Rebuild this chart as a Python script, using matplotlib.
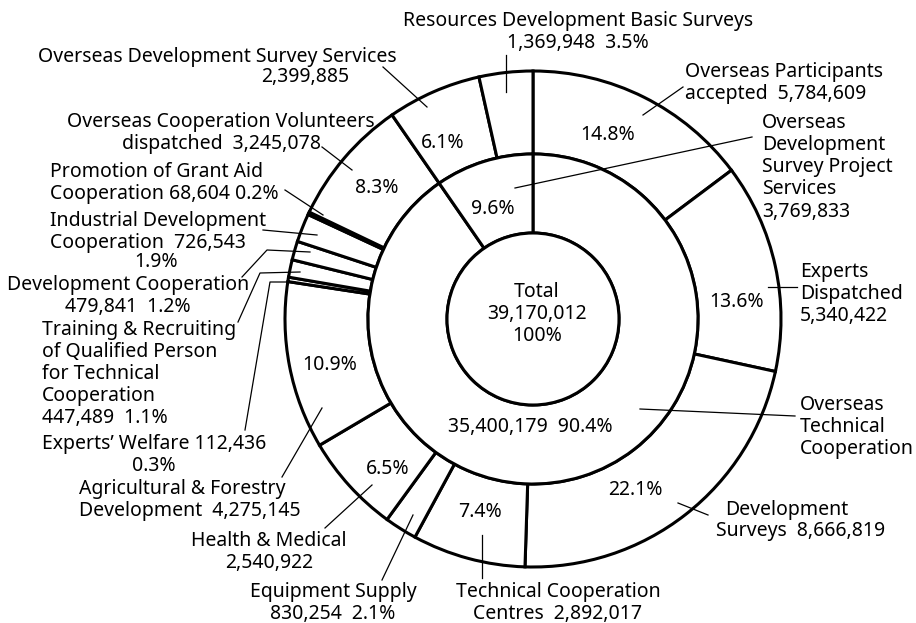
import matplotlib
matplotlib.use("Agg")
import matplotlib.pyplot as plt

W, H = 916, 623

# outer ring, clockwise from 12 o'clock
items = [
    "Overseas Participants accepted", "Experts Dispatched", "Development Surveys",
    "Technical Cooperation Centres", "Equipment Supply", "Health & Medical",
    "Agricultural & Forestry Development", "Experts’ Welfare",
    "Training & Recruiting of Qualified Person for Technical Cooperation",
    "Development Cooperation", "Industrial Development Cooperation",
    "Promotion of Grant Aid Cooperation", "Overseas Cooperation Volunteers dispatched",
    "Overseas Development Survey Services", "Resources Development Basic Surveys",
]
amounts = [5784609, 5340422, 8666819, 2892017, 830254, 2540922, 4275145, 112436,
           447489, 479841, 726543, 68604, 3245078, 2399885, 1369948]

# middle ring
groups = ["Overseas Technical Cooperation", "Overseas Development Survey Project Services"]
group_amounts = [35400179, 3769833]

total = 39170012


def fmt(v):
    return f"{v:,}"


def pct(v):
    return f"{v / total * 100:.1f}%"


plt.rcParams["font.family"] = ["Noto Sans", "DejaVu Sans"]
FS = 14
LS = 1.15

fig = plt.figure(figsize=(W / 100, H / 100), dpi=100)
ax = fig.add_axes([0, 0, 1, 1])

cx, cy = 533, H - 319
ring = dict(facecolor="white", edgecolor="black", linewidth=2.2)
ax.pie(amounts, radius=248, center=(cx, cy), startangle=90, counterclock=False,
       wedgeprops=dict(width=83, **ring))
ax.pie(group_amounts, radius=165, center=(cx, cy), startangle=90, counterclock=False,
       wedgeprops=dict(width=79, **ring))
ax.pie([total], radius=86, center=(cx, cy), wedgeprops=ring)

ax.set_xlim(0, W)
ax.set_ylim(0, H)
ax.set_aspect("equal")
ax.axis("off")


def label(x, y, s, ha="center"):
    ax.text(x, H - y, s, ha=ha, va="center", fontsize=FS, linespacing=LS)


def leader(*pts):
    ax.plot([p[0] for p in pts], [H - p[1] for p in pts], color="black", lw=0.9)


a = amounts
# labels round the chart
label(578, 32, f"{items[14]}\n{fmt(a[14])}  {pct(a[14])}")
label(217, 57, items[13])
label(305, 77, fmt(a[13]))
label(221, 133, f"Overseas Cooperation Volunteers\ndispatched  {fmt(a[12])}")
label(685, 83, f"Overseas Participants\naccepted  {fmt(a[0])}", ha="left")
label(762, 167, f"Overseas\nDevelopment\nSurvey Project\nServices\n{fmt(group_amounts[1])}", ha="left")
label(800, 294, f"Experts\nDispatched\n{fmt(a[1])}", ha="left")
label(800, 427, "Overseas\nTechnical\nCooperation", ha="left")
label(787, 510, "Development")
label(801, 531, f"Surveys  {fmt(a[2])}")
label(558, 603, f"Technical Cooperation\nCentres  {fmt(a[3])}")
label(333, 603, f"Equipment Supply\n{fmt(a[4])}  {pct(a[4])}")
label(269, 552, f"Health & Medical\n{fmt(a[5])}")
label(79, 500, f"Agricultural & Forestry\nDevelopment  {fmt(a[6])}", ha="left")
label(154, 455, f"Experts’ Welfare {fmt(a[7])}\n{pct(a[7])}")
label(42, 374, f"Training & Recruiting\nof Qualified Person\nfor Technical\nCooperation\n{fmt(a[8])}  {pct(a[8])}", ha="left")
label(128, 296, f"Development Cooperation\n{fmt(a[9])}  {pct(a[9])}")
label(50, 232, f"Industrial Development\nCooperation  {fmt(a[10])}", ha="left")
label(156, 262, pct(a[10]))
label(50, 183, f"Promotion of Grant Aid\nCooperation {fmt(a[11])} {pct(a[11])}", ha="left")

# percentages inside the rings
label(608, 135, pct(a[0]))
label(737, 302, pct(a[1]))
label(635, 490, pct(a[2]))
label(480, 512, pct(a[3]))
label(388, 469, pct(a[5]))
label(330, 365, pct(a[6]))
label(377, 188, pct(a[12]))
label(443, 143, pct(a[13]))
label(493, 209, pct(group_amounts[1]))
label(530, 427, f"{fmt(group_amounts[0])}  {pct(group_amounts[0])}")
label(537, 314, f"Total\n{fmt(total)}\n100%")

# leader lines
leader((506, 55), (506, 92))
leader((383, 67), (427, 107))
leader((322, 147), (352, 170))
leader((683, 87), (643, 115))
leader((752, 137), (515, 188))
leader((768, 287), (797, 287))
leader((640, 409), (795, 416))
leader((678, 503), (708, 515))
leader((482, 535), (482, 578))
leader((413, 515), (382, 580))
leader((372, 485), (325, 528))
leader((322, 408), (282, 477))
leader((245, 430), (270, 282), (295, 282))
leader((238, 322), (260, 273), (300, 272))
leader((242, 277), (267, 250), (310, 252))
leader((263, 230), (317, 235))
leader((285, 190), (323, 215))

fig.savefig("out.png", dpi=100)
